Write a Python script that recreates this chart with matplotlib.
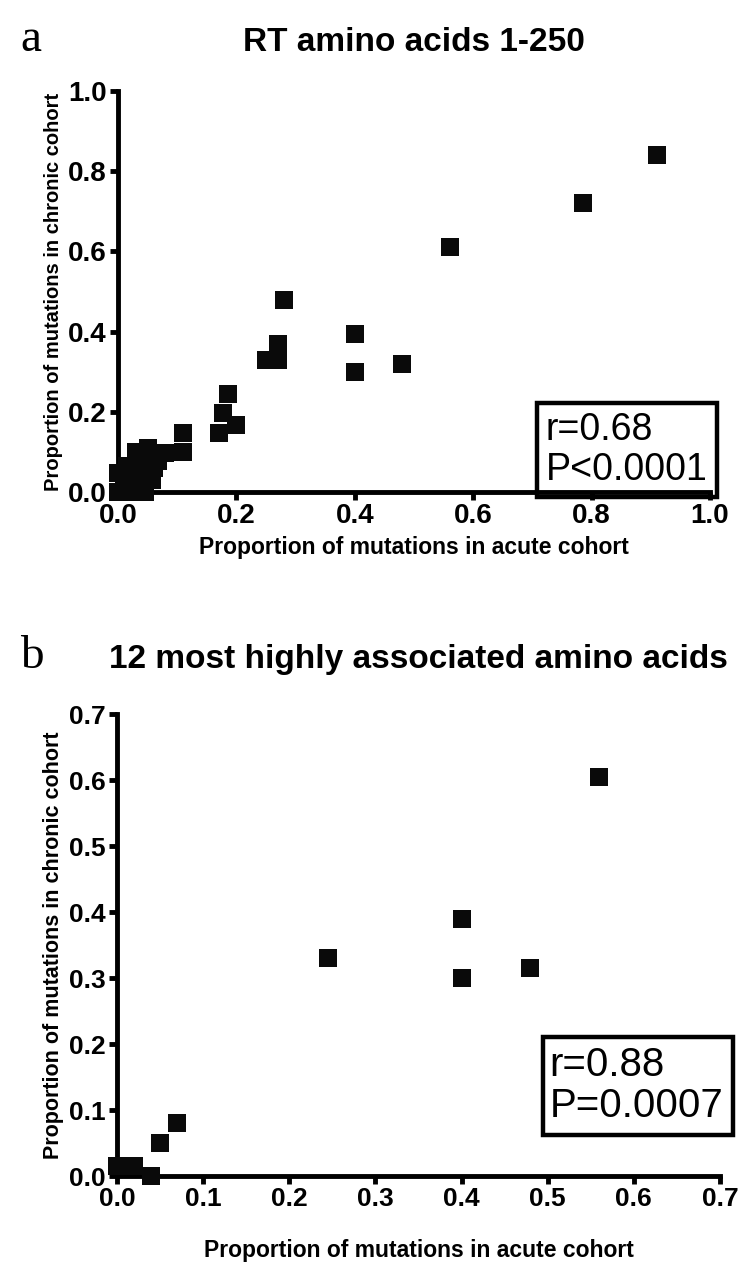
import matplotlib
matplotlib.use("Agg")
import matplotlib.pyplot as plt
from matplotlib.patches import Rectangle

plt.rcParams['font.family'] = ['Liberation Sans', 'DejaVu Sans']

# panel a: RT amino acids 1-250
acute_a = [0.91, 0.785, 0.56, 0.28, 0.27, 0.25, 0.27, 0.40, 0.40, 0.48,
           0.185, 0.178, 0.20, 0.17, 0.11, 0.11, 0.08, 0.05, 0.03, 0.068,
           0.06, 0.057, 0.03, 0.0, 0.0, 0.03, 0.045, 0.02, 0.04, 0.015,
           0.05, 0.01, 0.025]
chronic_a = [0.84, 0.72, 0.61, 0.48, 0.37, 0.33, 0.33, 0.395, 0.30, 0.32,
             0.245, 0.196, 0.167, 0.148, 0.148, 0.10, 0.097, 0.11, 0.10, 0.077,
             0.06, 0.03, 0.047, 0.047, 0.0, 0.0, 0.0, 0.02, 0.085, 0.065,
             0.045, 0.03, 0.01]
ticks_a = [0.0, 0.2, 0.4, 0.6, 0.8, 1.0]
stats_a = "r=0.68\nP<0.0001"

# panel b: 12 most highly associated amino acids
acute_b = [0.56, 0.40, 0.40, 0.48, 0.245, 0.07, 0.05, 0.04, 0.0, 0.01, 0.02, 0.005]
chronic_b = [0.605, 0.39, 0.30, 0.315, 0.33, 0.08, 0.05, 0.0, 0.015, 0.015, 0.015, 0.015]
ticks_b = [0.0, 0.1, 0.2, 0.3, 0.4, 0.5, 0.6, 0.7]
stats_b = "r=0.88\nP=0.0007"

W, H = 750, 1274
fig = plt.figure(figsize=(W / 100, H / 100), dpi=100)


def px_axes(left, right, top, bottom):
    """Add axes from pixel edges (top-left origin)."""
    return fig.add_axes([left / W, 1 - bottom / H, (right - left) / W, (bottom - top) / H])


def style_axes(ax, ticks, tick_size):
    for side in ['top', 'right']:
        ax.spines[side].set_visible(False)
    for side in ['left', 'bottom']:
        ax.spines[side].set_linewidth(3.5)
        ax.spines[side].set_capstyle('projecting')
    ax.set_xlim(ticks[0], ticks[-1])
    ax.set_ylim(ticks[0], ticks[-1])
    ax.set_xticks(ticks)
    ax.set_yticks(ticks)
    ax.set_xticklabels([f"{t:.1f}" for t in ticks])
    ax.set_yticklabels([f"{t:.1f}" for t in ticks])
    ax.tick_params(direction='out', length=6, width=3.5, labelsize=tick_size, pad=2)
    for lab in ax.get_xticklabels() + ax.get_yticklabels():
        lab.set_fontweight('bold')


ylab = "Proportion of mutations in chronic cohort"
xlab = "Proportion of mutations in acute cohort"

# ---- panel a
ax_a = px_axes(118, 710, 91, 492)
style_axes(ax_a, ticks_a, 20)
ax_a.plot(acute_a, chronic_a, 's', color='#0a0a0a', markersize=13,
          markeredgewidth=0, clip_on=False, zorder=3)
ax_a.set_ylabel(ylab, fontsize=14.5, fontweight='bold', labelpad=4)
ax_a.set_xlabel(xlab, fontsize=16.5, fontweight='bold', labelpad=5)
ax_a.set_title("RT amino acids 1-250", fontsize=24, fontweight='bold', pad=29)
fig.text(20 / W, 1 - 40 / H, "a", fontsize=34, family='Liberation Serif',
         va='center', ha='left')
ax_a.add_patch(Rectangle((0.708, -0.012), 0.304, 0.234, transform=ax_a.transAxes,
                         fill=False, lw=3.2, ec='black', clip_on=False))
ax_a.text(0.722, 0.105, stats_a, transform=ax_a.transAxes, fontsize=27,
          va='center', ha='left', linespacing=1.15)

# ---- panel b
ax_b = px_axes(117, 720, 714, 1176)
style_axes(ax_b, ticks_b, 19)
ax_b.plot(acute_b, chronic_b, 's', color='#0a0a0a', markersize=13,
          markeredgewidth=0, clip_on=False, zorder=3)
ax_b.set_ylabel(ylab, fontsize=15.5, fontweight='bold', labelpad=4)
ax_b.set_xlabel(xlab, fontsize=16.5, fontweight='bold', labelpad=20)
ax_b.set_title("12 most highly associated amino acids", fontsize=24,
               fontweight='bold', pad=33)
fig.text(20 / W, 1 - 657 / H, "b", fontsize=34, family='Liberation Serif',
         va='center', ha='left')
ax_b.add_patch(Rectangle((0.707, 0.088), 0.315, 0.213, transform=ax_b.transAxes,
                         fill=False, lw=3.2, ec='black', clip_on=False))
ax_b.text(0.717, 0.195, stats_b, transform=ax_b.transAxes, fontsize=29,
          va='center', ha='left', linespacing=1.1)

fig.savefig("out.png", dpi=100)
